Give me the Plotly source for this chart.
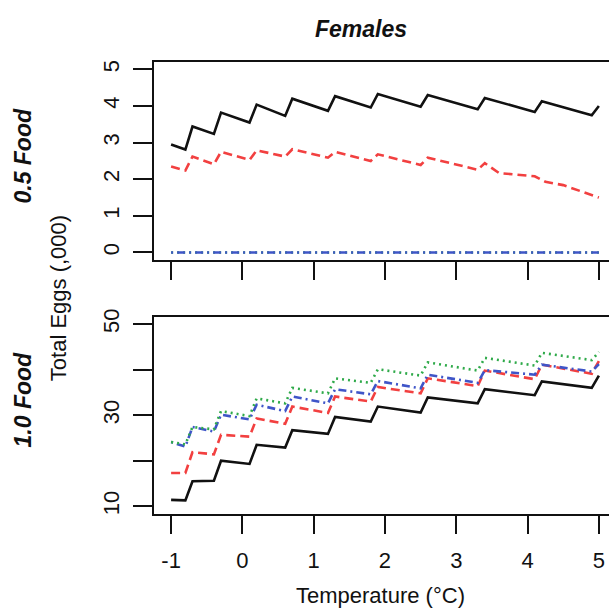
import plotly.graph_objects as go

# ---------------- data ----------------
temps = [-1.0, -0.8, -0.7, -0.4, -0.3, 0.1, 0.2, 0.6, 0.7, 1.2, 1.3,
         1.8, 1.9, 2.5, 2.6, 3.3, 3.4, 4.1, 4.2, 4.9, 5.0]

# 0.5 Food (eggs, thousands)
top_black = [2.95, 2.81, 3.44, 3.24, 3.82, 3.55, 4.04, 3.73, 4.20, 3.87, 4.27,
             3.96, 4.33, 3.98, 4.30, 3.91, 4.22, 3.84, 4.13, 3.75, 4.00]
top_red_temps = [-1.0, -0.8, -0.7, -0.4, -0.3, 0.1, 0.2, 0.6, 0.7, 1.2, 1.3,
                 1.8, 1.9, 2.5, 2.6, 3.3, 3.4, 3.6, 4.1, 4.25, 4.5, 5.0]
top_red = [2.35, 2.24, 2.62, 2.41, 2.75, 2.53, 2.79, 2.62, 2.82, 2.59, 2.75,
           2.50, 2.68, 2.39, 2.59, 2.26, 2.44, 2.17, 2.08, 1.93, 1.84, 1.50]
top_flat_temps = [-1.0, 5.0]
top_blue = [0.0, 0.0]
top_green = [0.0, 0.0]

# 1.0 Food
bot_black = [11.4, 11.3, 15.5, 15.6, 20.0, 19.3, 23.5, 22.9, 26.7, 25.9, 29.6,
             28.6, 31.9, 30.6, 33.9, 32.6, 35.7, 34.4, 37.4, 36.0, 38.7]
bot_red = [17.3, 17.3, 21.9, 21.4, 25.7, 25.3, 29.3, 28.1, 31.9, 30.5, 34.1,
           33.0, 36.2, 34.8, 38.1, 36.4, 39.8, 37.9, 41.1, 39.1, 41.9]
bot_blue = [24.1, 23.1, 27.4, 26.4, 30.1, 29.1, 32.3, 30.9, 34.1, 32.6, 35.7,
            34.6, 37.5, 35.9, 38.9, 37.1, 39.9, 38.9, 41.1, 39.6, 41.2]
bot_green = [24.1, 23.6, 27.4, 26.9, 30.9, 29.8, 33.7, 32.6, 36.0, 34.8, 38.1,
             37.1, 40.1, 38.7, 41.6, 39.8, 42.6, 40.9, 43.7, 42.1, 43.9]

x_ticks = [-1, 0, 1, 2, 3, 4, 5]
x_tick_text = ["-1", "0", "1", "2", "3", "4", "5"]
top_y_ticks = [0, 1, 2, 3, 4, 5]
bot_y_ticks = [10, 20, 30, 40, 50]
bot_y_text = ["10", "", "30", "", "50"]

# ---------------- styling ----------------
W, H = 609, 610
FONT = "Liberation Sans, Arial, Helvetica, sans-serif"
BLACK = "#111111"
RED = "#F24040"
BLUE = "#3F55C8"
GREEN = "#2FAA4A"
LW = 2.6


def px(xp):
    return xp / W


def py(yp):
    return 1 - yp / H


fig = go.Figure()


def add(x, y, color, dash, xa, ya):
    fig.add_trace(go.Scatter(x=x, y=y, mode="lines",
                             line=dict(color=color, width=LW, dash=dash),
                             xaxis=xa, yaxis=ya, hoverinfo="skip"))


# top panel
add(temps, top_black, BLACK, "solid", "x", "y")
add(top_red_temps, top_red, RED, "9px,5px", "x", "y")
add(top_flat_temps, top_green, GREEN, "2px,4px", "x", "y")
add(top_flat_temps, top_blue, BLUE, "2px,4px,8px,4px", "x", "y")

# bottom panel
add(temps, bot_black, BLACK, "solid", "x2", "y2")
add(temps, bot_red, RED, "9px,5px", "x2", "y2")
add(temps, bot_blue, BLUE, "2px,4px,8px,4px", "x2", "y2")
add(temps, bot_green, GREEN, "2px,4px", "x2", "y2")

x_dom = [px(154), 1.0]
x_range = [-1.24, 5.142]

common_x = dict(range=x_range, domain=x_dom, showgrid=False, zeroline=False,
                showline=True, mirror=True, linecolor=BLACK, linewidth=2,
                ticks="outside", ticklen=18, tickwidth=2, tickcolor=BLACK,
                tickvals=x_ticks, ticktext=x_tick_text, fixedrange=True,
                tickfont=dict(family=FONT, size=22, color=BLACK))
common_y = dict(showgrid=False, zeroline=False, showline=True, mirror=False,
                linecolor=BLACK, linewidth=2, ticks="outside", ticklen=19,
                tickwidth=2, tickcolor=BLACK, tickangle=-90, fixedrange=True,
                ticklabelstandoff=5,
                tickfont=dict(family=FONT, size=22, color=BLACK))

fig.update_layout(
    width=W, height=H,
    margin=dict(l=0, r=0, t=0, b=0),
    paper_bgcolor="white", plot_bgcolor="white",
    showlegend=False,
    xaxis=dict(common_x, anchor="y", showticklabels=False),
    yaxis=dict(common_y, anchor="x", domain=[py(256), py(55)],
               range=[-0.2, 5.2], tickvals=top_y_ticks),
    xaxis2=dict(common_x, anchor="y2", showticklabels=True,
                ticklabelstandoff=8),
    yaxis2=dict(common_y, anchor="x2", domain=[py(514), py(314)],
                range=[8.4, 51.6], tickvals=bot_y_ticks,
                ticktext=bot_y_text),
)

ann_font = dict(family=FONT, size=22, color=BLACK)
bold_font = dict(family=FONT, size=23, color=BLACK)

fig.add_annotation(text="<b><i>Females</i></b>", x=px(361), y=py(21),
                   xref="paper", yref="paper", showarrow=False,
                   xanchor="center", yanchor="middle", font=bold_font)
fig.add_annotation(text="<b><i>0.5 Food</i></b>", x=px(23), y=py(150),
                   xref="paper", yref="paper", showarrow=False, textangle=-90,
                   xanchor="center", yanchor="middle", font=bold_font)
fig.add_annotation(text="<b><i>1.0 Food</i></b>", x=px(23), y=py(398),
                   xref="paper", yref="paper", showarrow=False, textangle=-90,
                   xanchor="center", yanchor="middle", font=bold_font)
fig.add_annotation(text="Total Eggs (,000)", x=px(58), y=py(295),
                   xref="paper", yref="paper", showarrow=False, textangle=-90,
                   xanchor="center", yanchor="middle", font=ann_font)
fig.add_annotation(text="Temperature (°C)", x=px(380), y=py(597),
                   xref="paper", yref="paper", showarrow=False,
                   xanchor="center", yanchor="middle", font=ann_font)

post = ("var gd=document.getElementById('{plot_id}');"
        "document.documentElement.style.margin='0';"
        "document.body.style.margin='0';"
        "document.body.style.overflow='hidden';"
        "gd.style.position='absolute';gd.style.left='0px';gd.style.top='0px';")

fig.write_html("out.html", post_script=post,
               config={"displayModeBar": False})
